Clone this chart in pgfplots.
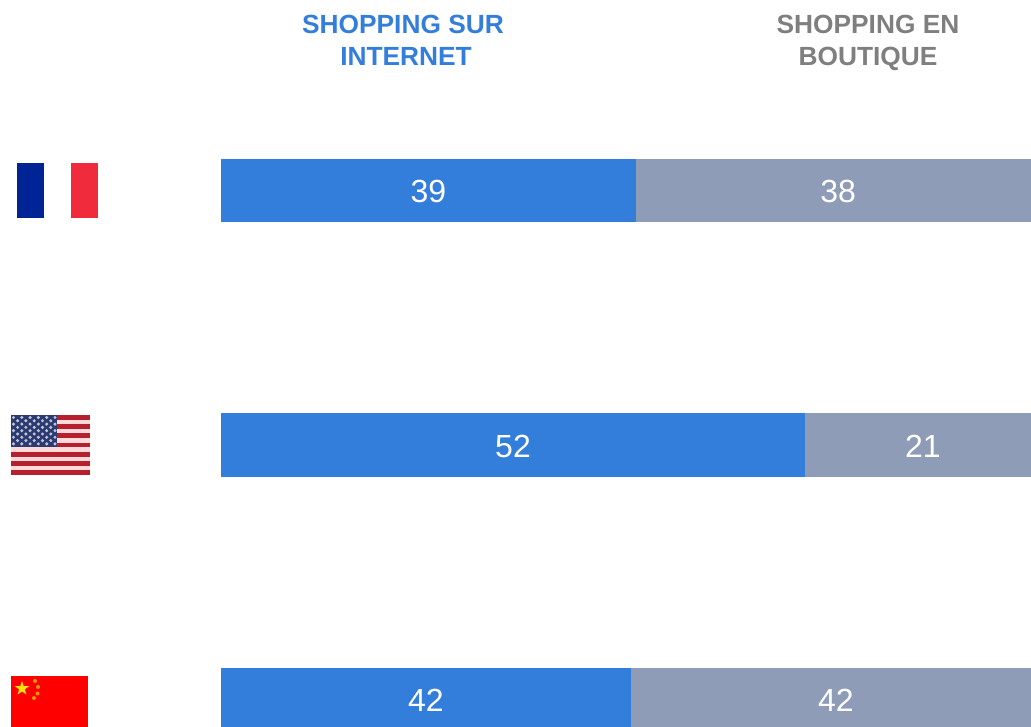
\documentclass[border=0pt]{standalone}
\usepackage{fontspec}
\setmainfont{Liberation Sans}
\usepackage{pgfplots}
\pgfplotsset{compat=1.18}
\usetikzlibrary{shapes.geometric}
\definecolor{netblue}{HTML}{347EDB}
\definecolor{shopgrey}{HTML}{8F9CB8}
\definecolor{headgrey}{HTML}{7F7F7F}
\definecolor{usred}{HTML}{B5202F}
\definecolor{usnavy}{HTML}{2B3A70}
\definecolor{frblue}{HTML}{002395}
\definecolor{frred}{HTML}{EF2B3C}

% One stacked bar per country, each with its own scale; the second segment runs off the right edge.
\pgfplotsset{
  countrybar/.style={
    hide axis, scale only axis, width=810pt,
    xbar stacked, reverse stacked plots=false,
    xmin=0, ymin=0, ymax=1,
    clip=true, anchor=south west,
    enlargelimits=false,
  },
}
\newcommand{\seglabel}[1]{\node[text=white,yshift=-1pt,font=\fontsize{32}{32}\selectfont] at #1;}

\begin{document}
\begin{tikzpicture}[x=1pt,y=1pt]
\path[use as bounding box] (0,0) rectangle (1031,727);

% France
\begin{axis}[countrybar, at={(221pt,505pt)}, height=63pt, xmax=76.12]
\addplot[draw=none, fill=netblue, bar width=63pt, bar shift=0pt] coordinates {(39,0.5)};
\addplot[draw=none, fill=shopgrey, bar width=63pt, bar shift=0pt] coordinates {(38,0.5)};
\seglabel{(axis cs:19.5,0.5) {39}}
\seglabel{(axis cs:58,0.5) {38}}
\end{axis}

% United States
\begin{axis}[countrybar, at={(221pt,250pt)}, height=64pt, xmax=72.12]
\addplot[draw=none, fill=netblue, bar width=64pt, bar shift=0pt] coordinates {(52,0.5)};
\addplot[draw=none, fill=shopgrey, bar width=64pt, bar shift=0pt] coordinates {(21,0.5)};
\seglabel{(axis cs:26,0.5) {52}}
\seglabel{(axis cs:62.5,0.5) {21}}
\end{axis}

% China: the bar's lower end falls below the page
\begin{axis}[countrybar, at={(221pt,0pt)}, height=59pt, xmax=82.98]
\addplot[draw=none, fill=netblue, bar width=63.5pt, bar shift=0pt] coordinates {(42,0.462)};
\addplot[draw=none, fill=shopgrey, bar width=63.5pt, bar shift=0pt] coordinates {(42,0.462)};
\seglabel{(axis cs:21,0.462) {42}}
\seglabel{(axis cs:63,0.462) {42}}
\end{axis}

\begin{scope}[shift={(0,727)},y=-1pt]
% Column headings
\tikzset{head/.style={anchor=base,inner sep=0pt,font=\bfseries\fontsize{26.3}{26.3}\selectfont}}
\node[head,text=netblue] at (403,33.5) {SHOPPING SUR};
\node[head,text=netblue] at (406,65.5) {INTERNET};
\node[head,text=headgrey] at (868,33.5) {SHOPPING EN};
\node[head,text=headgrey] at (868,65.5) {BOUTIQUE};

% Flag of France
\fill[frblue] (17,163) rectangle (44,218);
\fill[frred] (71,163) rectangle (98,218);

% Flag of the United States
\fill[white!85!red] (11,415) rectangle (90,475);
\foreach \s in {0,2,...,12}{
  \fill[usred] (11,{415+\s*60/13}) rectangle (90,{415+(\s+1)*60/13});
}
\fill[usnavy] (11,415) rectangle (57,447);
\foreach \r in {0,2,4,6,8}{
  \foreach \c in {0,...,5}{
    \fill[white!70!usnavy] ({13.5+\c*8.3},{417.5+\r*3.3}) circle (1.7);
  }
}
\foreach \r in {1,3,5,7}{
  \foreach \c in {0,...,4}{
    \fill[white!70!usnavy] ({17.6+\c*8.3},{417.5+\r*3.3}) circle (1.7);
  }
}

% Flag of China
\fill[red] (11,676) rectangle (88,727);
\node[star,star points=5,star point ratio=2.5,fill=yellow!85!orange,inner sep=0pt,minimum size=15pt] at (22,688.5) {};
\foreach \px/\py in {35/681,38/687,37.5/693.5,34/698}{
  \fill[orange!80!yellow] (\px,\py) circle (2);
}
\end{scope}
\end{tikzpicture}
\end{document}
